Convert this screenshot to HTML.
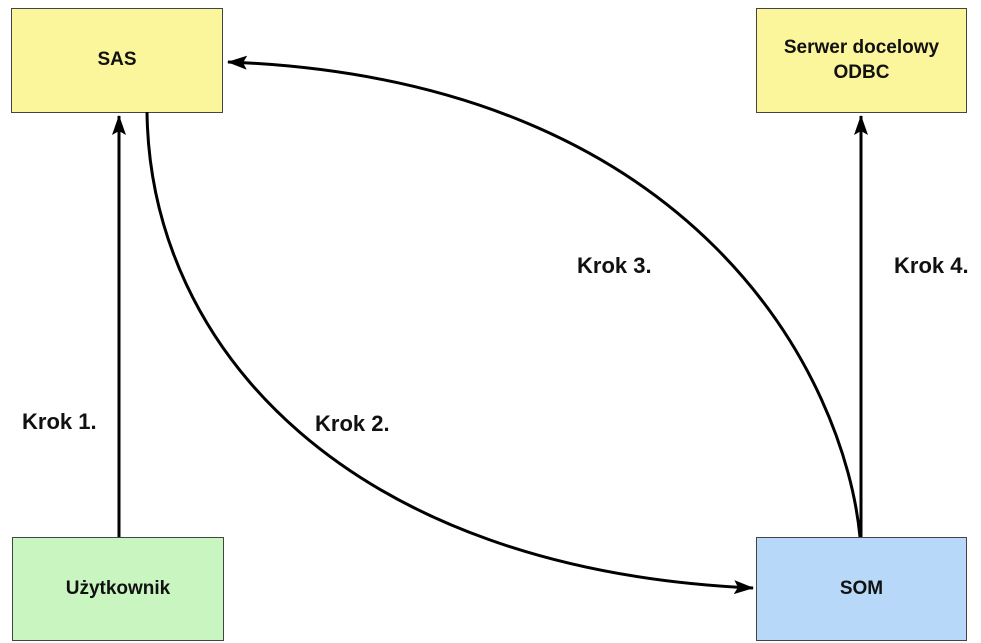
<!DOCTYPE html>
<html><head><style>
body{margin:0;background:#fff;width:981px;height:643px;overflow:hidden;font-family:"Liberation Sans",sans-serif}
.b{position:absolute;border:1.5px solid #444;display:flex;align-items:center;justify-content:center;text-align:center;font-weight:bold;font-size:19px;color:#111;line-height:1.3;box-sizing:border-box}
.l{position:absolute;font-weight:bold;font-size:22px;color:#111}
</style></head><body>
<div class="b" style="left:11px;top:8px;width:212px;height:105px;background:#fbf59c">SAS</div>
<div class="b" style="left:756px;top:8px;width:211px;height:105px;background:#fbf59c">Serwer docelowy<br>ODBC</div>
<div class="b" style="left:12px;top:537px;width:212px;height:104px;background:#c9f5c1">Użytkownik</div>
<div class="b" style="left:756px;top:537px;width:211px;height:104px;background:#b8d8fa">SOM</div>
<svg width="981" height="643" style="position:absolute;left:0;top:0">
<defs>
<marker id="m" markerWidth="20" markerHeight="14" refX="19" refY="7" orient="auto" markerUnits="userSpaceOnUse" viewBox="0 0 20 14"><path d="M0,0L20,7L0,14L4,7Z" fill="#000"/></marker></defs>
<g stroke="#000" stroke-width="3" fill="none">
<path d="M119,537 L119,116" marker-end="url(#m)"/>
<path d="M861,537 L861,116" marker-end="url(#m)"/>
<path d="M147,112 C150,350 350,570 753,588" marker-end="url(#m)"/>
<path d="M860,537 C845,380 700,80 228,62" marker-end="url(#m)"/>
</g></svg>
<div class="l" style="left:22px;top:409px">Krok 1.</div>
<div class="l" style="left:315px;top:411px">Krok 2.</div>
<div class="l" style="left:577px;top:253px">Krok 3.</div>
<div class="l" style="left:894px;top:253px">Krok 4.</div>
</body></html>
